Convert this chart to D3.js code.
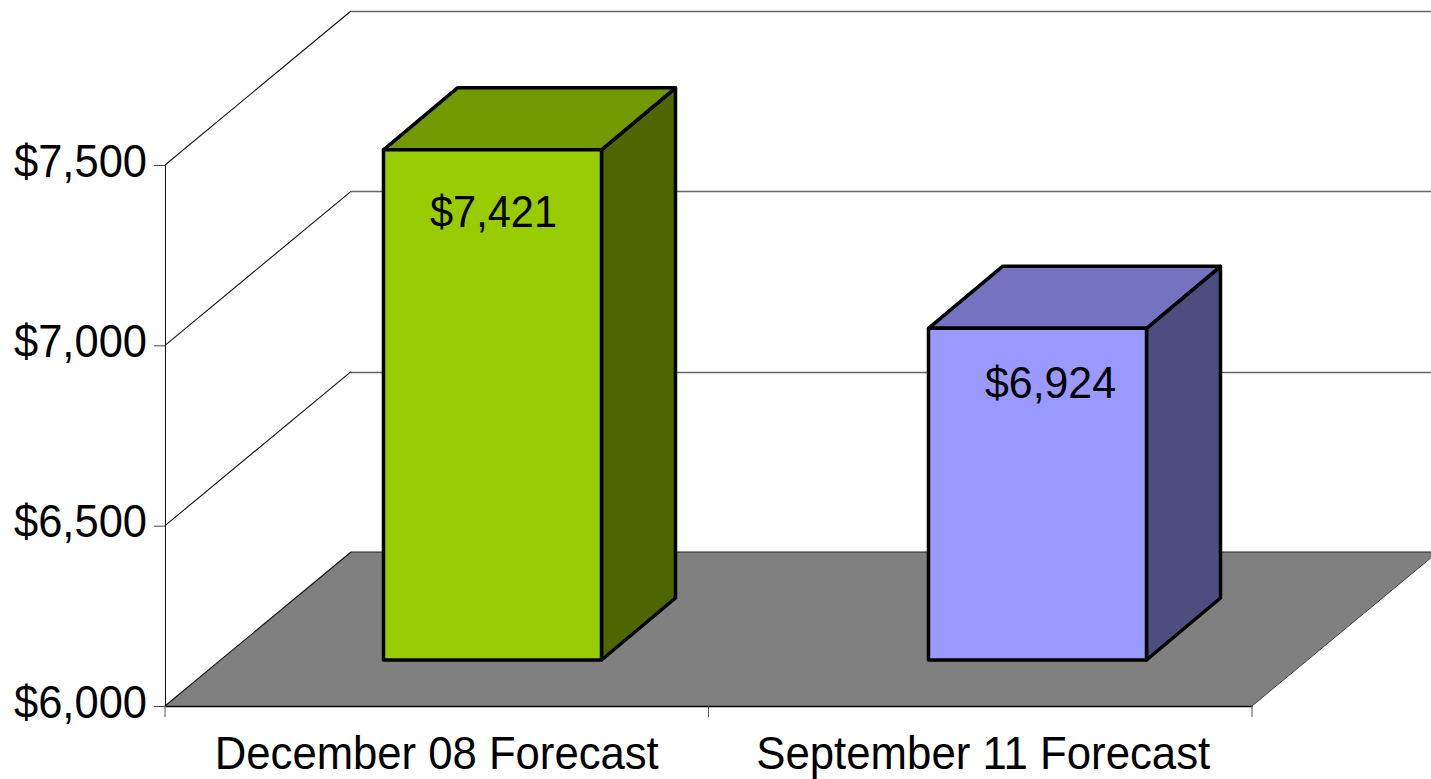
<!DOCTYPE html>
<html>
<head>
<meta charset="utf-8">
<script src="https://cdn.jsdelivr.net/npm/d3@7"></script>
<style>
    html, body { margin: 0; padding: 0; background: #fff; overflow: hidden; }
    #chart { width: 1431px; height: 779px; }
    text { font-family: "Liberation Sans", Arial, sans-serif; fill: #000; }
</style>
</head>
<body>
<div id="chart"></div>
<script>
// 1. Data

const categories = ["December 08 Forecast", "September 11 Forecast"];
const values = [7421, 6924];
const valueLabels = ["$7,421", "$6,924"];
const yTicks = [6000, 6500, 7000, 7500];
const frontColors = ["#99cc00", "#9999ff"];
const topColors = ["#739900", "#7373bf"];
const sideColors = ["#4d6600", "#4d4d80"];

// 2. Canvas

const width = 1431;
const height = 779;

const svg = d3.select("#chart")
    .append("svg")
    .attr("width", width)
    .attr("height", height);

// 3. Scales

const wall = { dx: 186, dy: -154 };   // depth of the whole 3d box
const bar = { dx: 74, dy: -62 };      // depth of one column

const yScale = d3.scaleLinear()
    .domain([6000, 7500])
    .range([706, 165]);

const xScale = d3.scaleBand()
    .domain(categories)
    .range([165, 1252]);

// columns stand part way into the box, so they get their own scales
const xBar = d3.scaleBand()
    .domain(categories)
    .range([220, 1310])
    .paddingInner(0.6)
    .paddingOuter(0.3);

const yBar = d3.scaleLinear()
    .domain([6000, 7500])
    .range([660, 121.5]);

const line = d3.line();

// 4. Floor and walls

const x0 = xScale.range()[0];
const x1 = xScale.range()[1];
const y0 = yScale(6000);

svg.append("path")
    .attr("d", line([[x0, y0], [x1, y0], [x1 + wall.dx, y0 + wall.dy], [x0 + wall.dx, y0 + wall.dy]]) + "Z")
    .attr("fill", "#808080")
    .attr("stroke", "none");

// floor edges
svg.append("path")
    .attr("d", line([[x1, y0], [x1 + wall.dx, y0 + wall.dy]]))
    .attr("fill", "none")
    .attr("stroke", "#404040")
    .attr("stroke-width", 1);

svg.append("path")
    .attr("d", line([[x0 + wall.dx, y0 + wall.dy], [x1 + wall.dx, y0 + wall.dy]]))
    .attr("fill", "none")
    .attr("stroke", "#202020")
    .attr("stroke-width", 1);

// gridlines along the back wall and down the side wall
svg.selectAll(".grid")
    .data(yTicks)
    .enter()
    .append("path")
        .attr("class", "grid")
        .attr("d", function(d) {
            const y = yScale(d);
            return line([[x0, y], [x0 + wall.dx, y + wall.dy]]);
        })
        .attr("fill", "none")
        .attr("stroke", "#111")
        .attr("stroke-width", 1.1);

svg.selectAll(".gridBack")
    .data(yTicks.filter(function(d) { return d > 6000; }))
    .enter()
    .append("path")
        .attr("class", "gridBack")
        .attr("d", function(d) {
            const y = Math.round(yScale(d) + wall.dy) + 0.5;
            return line([[x0 + wall.dx, y], [x1 + wall.dx, y]]);
        })
        .attr("fill", "none")
        .attr("stroke", "#666")
        .attr("stroke-width", 1.4);

// 5. Axes

const yAxis = svg.append("g")
    .attr("class", "axis")
    .attr("transform", `translate(${x0},0)`)
    .call(d3.axisLeft(yScale)
        .tickValues(yTicks)
        .tickSize(11)
        .tickPadding(7)
        .tickFormat(d3.format("$,")));
yAxis.selectAll("path").attr("stroke", "#111").attr("stroke-width", 1);
yAxis.selectAll("line").attr("stroke", "#444");
// the source font is a little taller and narrower than Liberation Sans
yAxis.selectAll("text")
    .attr("font-size", 46)
    .attr("dy", "0.24em")
    .attr("textLength", 133)
    .attr("lengthAdjust", "spacingAndGlyphs");

const xLabelWidth = [444, 454];
const xLabelNudge = [0, 3];

const xAxis = svg.append("g")
    .attr("class", "axis")
    .attr("transform", `translate(0,${y0})`)
    .call(d3.axisBottom(xScale)
        .tickSize(0)
        .tickPadding(30));
xAxis.selectAll("path").attr("stroke", "#000").attr("stroke-width", 1.5);
xAxis.selectAll("text")
    .attr("font-size", 46)
    .attr("x", function(d, i) { return xLabelNudge[i]; })
    .attr("textLength", function(d, i) { return xLabelWidth[i]; })
    .attr("lengthAdjust", "spacingAndGlyphs");

// ticks sit between the categories, not under them
const xEdges = categories.map(function(d) { return xScale(d); }).concat([x1]);
xAxis.selectAll(".edge")
    .data(xEdges)
    .enter()
    .append("line")
        .attr("class", "edge")
        .attr("x1", function(d) { return d; })
        .attr("x2", function(d) { return d; })
        .attr("y1", 0)
        .attr("y2", 11)
        .attr("stroke", "#555");

// 6. Columns

const columns = svg.selectAll(".column")
    .data(categories)
    .enter()
    .append("g")
        .attr("class", "column");

function corners(i) {
    const left = xBar(categories[i]);
    const right = left + xBar.bandwidth();
    return { left: left, right: right, top: yBar(values[i]), base: yBar(6000) };
}

columns.append("path")
    .attr("d", function(d, i) {
        const c = corners(i);
        return line([[c.right, c.top], [c.right + bar.dx, c.top + bar.dy], [c.right + bar.dx, c.base + bar.dy], [c.right, c.base]]) + "Z";
    })
    .attr("fill", function(d, i) { return sideColors[i]; });

columns.append("path")
    .attr("d", function(d, i) {
        const c = corners(i);
        return line([[c.left, c.top], [c.left + bar.dx, c.top + bar.dy], [c.right + bar.dx, c.top + bar.dy], [c.right, c.top]]) + "Z";
    })
    .attr("fill", function(d, i) { return topColors[i]; });

columns.append("rect")
    .attr("x", function(d) { return xBar(d); })
    .attr("y", function(d, i) { return yBar(values[i]); })
    .attr("width", xBar.bandwidth())
    .attr("height", function(d, i) { return yBar(6000) - yBar(values[i]); })
    .attr("fill", function(d, i) { return frontColors[i]; });

columns.selectAll("path, rect")
    .attr("stroke", "#000")
    .attr("stroke-width", 3.5)
    .attr("stroke-linejoin", "round");

// 7. Value labels

const labelOffset = [{ x: 1, y: 77 }, { x: 13, y: 70 }];
const labelWidth = [127, 131];

columns.append("text")
    .attr("x", function(d, i) { return xBar(d) + xBar.bandwidth() / 2 + labelOffset[i].x; })
    .attr("y", function(d, i) { return yBar(values[i]) + labelOffset[i].y; })
    .attr("text-anchor", "middle")
    .attr("font-size", 45)
    .attr("textLength", function(d, i) { return labelWidth[i]; })
    .attr("lengthAdjust", "spacingAndGlyphs")
    .text(function(d, i) { return valueLabels[i]; });
</script>
</body>
</html>
